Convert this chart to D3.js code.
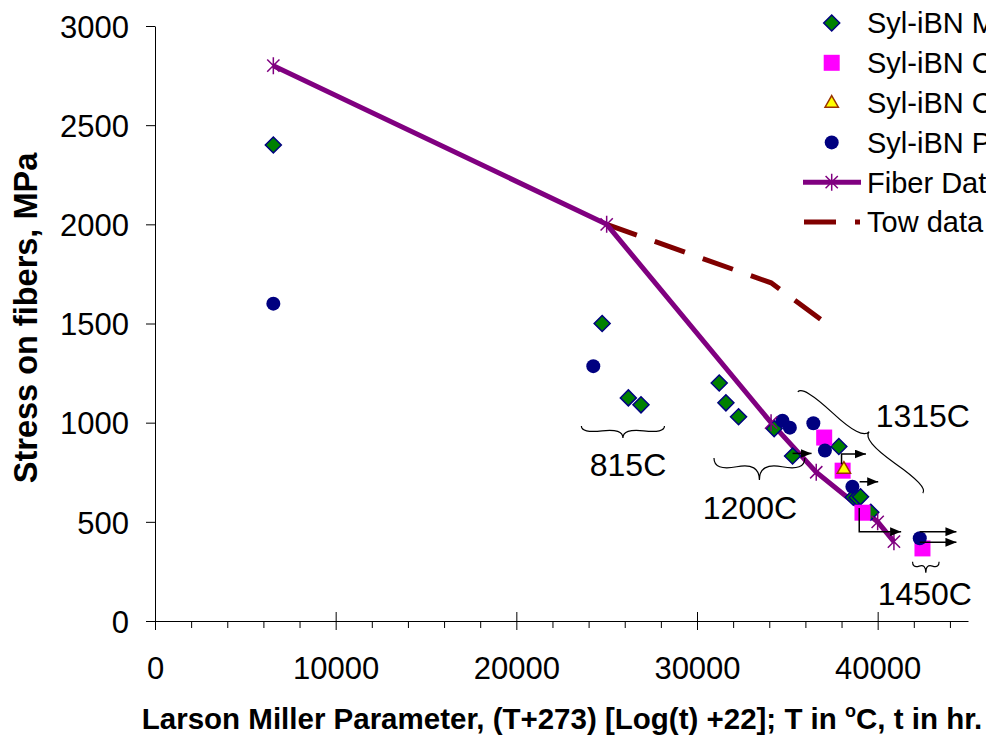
<!DOCTYPE html>
<html><head><meta charset="utf-8">
<script src="https://cdn.jsdelivr.net/npm/d3@7"></script>
<style>
body{margin:0;background:#fff;}
svg{display:block;font-family:Arial,"Liberation Sans",sans-serif;}
</style>
</head><body>
<svg id="c" width="986" height="735"></svg>
<script>
// ---------- data ----------
const seriesNames = ["Syl-iBN MI", "Syl-iBN CVI", "Syl-iBN CVI+PIP", "Syl-iBN PIP", "Fiber Data", "Tow data"];
const miData   = [[6550,2400],[24750,1500],[26200,1125],[26900,1090],[31230,1200],[31600,1100],[32300,1030],[34270,970],[35290,832],[37850,880],[38650,624],[38850,622],[39050,626],[39620,548]];
const cviData  = [[37040,925],[38060,758],[39160,546],[42480,366]];
const cvi2Data = [[38130,768]];
const pipData  = [[6550,1600],[24260,1285],[34730,1010],[35140,975],[36440,997],[37080,860],[38600,677],[42330,417]];
const fiberData = [[6550,2800],[25000,2000],[34100,1000],[36600,750],[40000,500],[40900,400]];
const towData   = [[25000,2000],[34100,1705],[37000,1510]];
const xTicks = [0,10000,20000,30000,40000];
const xMinorTicks = [2000,4000,6000,8000,12000,14000,16000,18000,22000,24000,26000,28000,32000,34000,36000,38000,42000,44000];
const yTicks = [0,500,1000,1500,2000,2500,3000];
// run-out arrows (data units)
const arrowPaths = [
  [[35290,845],[36340,845]],
  [[38000,790],[38000,842],[39350,842]],
  [[39000,702],[40030,702]],
  [[38980,570],[38980,450],[41300,450]],
  [[42330,450],[44360,450]],
  [[42330,397],[44360,397]]
];
// temperature braces (data units): start, end
const braceLabels = ["815C","1200C","1315C","1450C"];
const braceEnds = [
  [[23600,983],[28200,983]],
  [[30940,822],[35970,822]],
  [[42500,645],[35580,1155]],
  [[41930,299],[43400,299]]
];
const braceLabelPos = [[26180,731],[32930,514],[42500,978],[42610,81]];

// ---------- layout ----------
const svg = d3.select("#c");
const x = d3.scaleLinear().domain([0,45000]).range([155,968]);
const y = d3.scaleLinear().domain([0,3000]).range([621,26]);

// axes
const gx = svg.append("g").attr("transform","translate(0,"+y(0)+")")
  .call(d3.axisBottom(x).tickValues(xTicks).tickSizeOuter(0).tickSizeInner(9).tickFormat(d3.format("d")));
gx.selectAll(".tick line").attr("y1",-9).attr("y2",9).attr("stroke","#000");
gx.selectAll(".tick text").attr("y",58).attr("dy",0).attr("font-size",31).attr("fill","#000").attr("font-family","Arial, 'Liberation Sans', sans-serif");
gx.select(".domain").attr("stroke","#000");
const gxm = svg.append("g").attr("transform","translate(0,"+y(0)+")")
  .call(d3.axisBottom(x).tickValues(xMinorTicks).tickSizeOuter(0).tickSizeInner(7).tickFormat(""));
gxm.select(".domain").remove();
gxm.selectAll(".tick line").attr("stroke","#000");

const gy = svg.append("g").attr("transform","translate("+x(0)+",0)")
  .call(d3.axisLeft(y).tickValues(yTicks).tickSizeOuter(0).tickSizeInner(9).tickPadding(17).tickFormat(d3.format("d")));
gy.selectAll(".tick line").attr("stroke","#000");
gy.selectAll(".tick text").attr("font-size",31).attr("fill","#000").attr("dy","0.36em").attr("font-family","Arial, 'Liberation Sans', sans-serif");
gy.select(".domain").attr("stroke","#000");

// axis titles
const xt = svg.append("text").attr("x",562).attr("y",729).attr("text-anchor","middle")
  .attr("font-size",29.5).attr("font-weight","bold");
xt.append("tspan").text("Larson Miller Parameter, (T+273) [Log(t) +22]; T in ");
xt.append("tspan").attr("font-size",18).attr("dy",-12).text("o");
xt.append("tspan").attr("dy",12).text("C, t in hr.");
svg.append("text").attr("transform","translate(37,318) rotate(-90)").attr("text-anchor","middle")
  .attr("font-size",32.5).attr("font-weight","bold").text("Stress on fibers, MPa");

// marker helpers
const diamondPath = (s)=>`M0,${-s}L${s},0L0,${s}L${-s},0Z`;
const starPath = (s)=>`M${-s*0.72},${-s*0.72}L${s*0.72},${s*0.72}M${-s*0.72},${s*0.72}L${s*0.72},${-s*0.72}M0,${-s}L0,${s}`;
const triPath = (s)=>`M0,${-s}L${s*0.95},${s*0.65}L${-s*0.95},${s*0.65}Z`;

function drawDiamonds(g, data){
  g.selectAll(null).data(data).enter().append("path")
    .attr("transform",d=>`translate(${x(d[0])},${y(d[1])})`)
    .attr("d",diamondPath(8)).attr("fill","#008000").attr("stroke","#000080").attr("stroke-width",1.5);
}
function drawSquares(g, data){
  g.selectAll(null).data(data).enter().append("rect")
    .attr("x",d=>x(d[0])-8).attr("y",d=>y(d[1])-8).attr("width",16).attr("height",16)
    .attr("fill","#ff00ff");
}
function drawTriangles(g, data){
  g.selectAll(null).data(data).enter().append("path")
    .attr("transform",d=>`translate(${x(d[0])},${y(d[1])})`)
    .attr("d",triPath(7)).attr("fill","#ffff00").attr("stroke","#993300").attr("stroke-width",1.5);
}
function drawCircles(g, data){
  g.selectAll(null).data(data).enter().append("circle")
    .attr("cx",d=>x(d[0])).attr("cy",d=>y(d[1])).attr("r",7).attr("fill","#000080");
}
function drawStars(g, data){
  g.selectAll(null).data(data).enter().append("path")
    .attr("transform",d=>`translate(${x(d[0])},${y(d[1])})`)
    .attr("d",starPath(8.5)).attr("fill","none").attr("stroke","#800080").attr("stroke-width",1.5);
}

const line = d3.line().x(d=>x(d[0])).y(d=>y(d[1]));

// lines
svg.append("path").datum(towData).attr("d",line).attr("fill","none")
  .attr("stroke","#800000").attr("stroke-width",5).attr("stroke-dasharray","32,19");
svg.append("path").datum(fiberData).attr("d",line).attr("fill","none")
  .attr("stroke","#800080").attr("stroke-width",5);

// markers
const gm = svg.append("g");
drawDiamonds(gm, miData);
drawSquares(gm, cviData);
drawTriangles(gm, cvi2Data);
drawCircles(gm, pipData);
drawStars(gm, fiberData);

// arrows
const defs = svg.append("defs");
defs.append("marker").attr("id","ah").attr("viewBox","0 0 10 8").attr("refX",10).attr("refY",4)
  .attr("markerWidth",11).attr("markerHeight",9).attr("markerUnits","userSpaceOnUse").attr("orient","auto")
  .append("path").attr("d","M0,0L10,4L0,8Z").attr("fill","#000");
svg.append("g").selectAll("path").data(arrowPaths).enter().append("path")
  .attr("d",line).attr("fill","none").attr("stroke","#000").attr("stroke-width",1.5)
  .attr("marker-end","url(#ah)");

// braces
function bracePath(x1,y1,x2,y2,w,q){
  let dx=x1-x2, dy=y1-y2; const len=Math.hypot(dx,dy); dx/=len; dy/=len;
  const qx1=x1+q*w*dy, qy1=y1-q*w*dx;
  const qx2=(x1-.25*len*dx)+(1-q)*w*dy, qy2=(y1-.25*len*dy)-(1-q)*w*dx;
  const tx1=(x1-.5*len*dx)+w*dy, ty1=(y1-.5*len*dy)-w*dx;
  const qx3=x2+q*w*dy, qy3=y2-q*w*dx;
  const qx4=(x1-.75*len*dx)+(1-q)*w*dy, qy4=(y1-.75*len*dy)-(1-q)*w*dx;
  return `M${x1},${y1}Q${qx1},${qy1} ${qx2},${qy2}T${tx1},${ty1}M${x2},${y2}Q${qx3},${qy3} ${qx4},${qy4}T${tx1},${ty1}`;
}
const braceDepth = [12,22,14,11];
const gb = svg.append("g");
braceEnds.forEach((b,i)=>{
  gb.append("path").attr("d",bracePath(x(b[0][0]),y(b[0][1]),x(b[1][0]),y(b[1][1]),braceDepth[i],0.6))
    .attr("fill","none").attr("stroke","#000").attr("stroke-width",1.2);
  gb.append("text").attr("x",x(braceLabelPos[i][0])).attr("y",y(braceLabelPos[i][1]))
    .attr("text-anchor","middle").attr("font-size",32).text(braceLabels[i]);
});

// legend
const lg = svg.append("g");
const rowY = i=>23+i*39.8;
const mx = 831.7;
seriesNames.forEach((n,i)=>{
  lg.append("text").attr("x",867).attr("y",rowY(i)).attr("dy","0.36em").attr("font-size",29).text(n);
});
lg.append("path").attr("transform",`translate(${mx},${rowY(0)})`).attr("d",diamondPath(8))
  .attr("fill","#008000").attr("stroke","#000080").attr("stroke-width",1.5);
lg.append("rect").attr("x",mx-8).attr("y",rowY(1)-8).attr("width",16).attr("height",16).attr("fill","#ff00ff");
lg.append("path").attr("transform",`translate(${mx},${rowY(2)})`).attr("d",triPath(7))
  .attr("fill","#ffff00").attr("stroke","#993300").attr("stroke-width",1.5);
lg.append("circle").attr("cx",mx).attr("cy",rowY(3)).attr("r",7).attr("fill","#000080");
lg.append("line").attr("x1",803).attr("x2",861).attr("y1",rowY(4)).attr("y2",rowY(4))
  .attr("stroke","#800080").attr("stroke-width",5);
lg.append("path").attr("transform",`translate(${mx},${rowY(4)})`).attr("d",starPath(8.5))
  .attr("fill","none").attr("stroke","#800080").attr("stroke-width",1.5);
lg.append("line").attr("x1",804).attr("x2",860).attr("y1",rowY(5)).attr("y2",rowY(5))
  .attr("stroke","#800000").attr("stroke-width",5).attr("stroke-dasharray","32,19");
</script>
</body></html>
